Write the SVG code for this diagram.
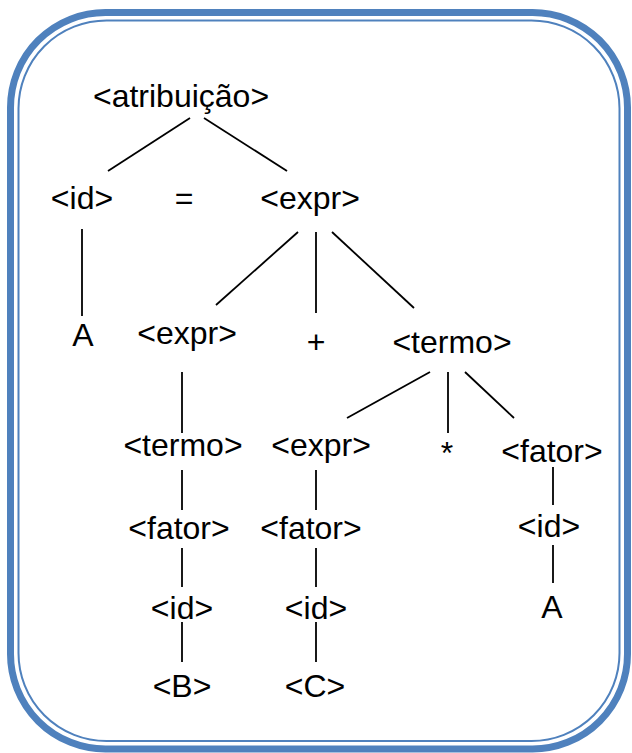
<svg xmlns="http://www.w3.org/2000/svg" width="632" height="753" viewBox="0 0 632 753">
  <style>
    .frame { fill: none; stroke: #4F81BD; }
    .lbl { font-family: "Liberation Sans", Arial, sans-serif; font-size: 32px; fill: #000; text-anchor: middle; }
    .edge { stroke: #000; stroke-width: 1.8; fill: none; }
  </style>

  <!-- double rounded frame -->
  <rect class="frame" x="10.5" y="12.5" width="617" height="736.5" rx="95" ry="95" stroke-width="7"/>
  <rect class="frame" x="18.5" y="20.5" width="601" height="720.5" rx="88" ry="88" stroke-width="2"/>

  <!-- tree edges -->
  <g id="edges">
    <line class="edge" x1="190" y1="118" x2="108" y2="171"/>
    <line class="edge" x1="204" y1="118" x2="287" y2="171"/>
    <line class="edge" x1="82" y1="229" x2="82" y2="316"/>
    <line class="edge" x1="298" y1="232" x2="216" y2="305"/>
    <line class="edge" x1="316" y1="232" x2="316" y2="313"/>
    <line class="edge" x1="332" y1="232" x2="414" y2="308"/>
    <line class="edge" x1="182" y1="372" x2="182" y2="433"/>
    <line class="edge" x1="430" y1="372" x2="347" y2="418"/>
    <line class="edge" x1="448" y1="372" x2="448" y2="433"/>
    <line class="edge" x1="465" y1="372" x2="514" y2="418"/>
    <line class="edge" x1="182" y1="470" x2="182" y2="510"/>
    <line class="edge" x1="316" y1="470" x2="316" y2="510"/>
    <line class="edge" x1="553" y1="467" x2="553" y2="505"/>
    <line class="edge" x1="182" y1="548" x2="182" y2="587"/>
    <line class="edge" x1="316" y1="548" x2="316" y2="587"/>
    <line class="edge" x1="553" y1="545" x2="553" y2="583"/>
    <line class="edge" x1="182" y1="622" x2="182" y2="662"/>
    <line class="edge" x1="316" y1="622" x2="316" y2="662"/>
  </g>

  <!-- nodes -->
  <g id="n-atribuicao"><text class="lbl" x="181" y="107">&lt;atribuição&gt;</text></g>
  <g id="n-id1"><text class="lbl" x="82" y="209">&lt;id&gt;</text></g>
  <g id="n-eq"><text class="lbl" x="184" y="209">=</text></g>
  <g id="n-expr1"><text class="lbl" x="310" y="209">&lt;expr&gt;</text></g>
  <g id="n-A1"><text class="lbl" x="83" y="346">A</text></g>
  <g id="n-expr2"><text class="lbl" x="187" y="344">&lt;expr&gt;</text></g>
  <g id="n-plus"><text class="lbl" x="316" y="353">+</text></g>
  <g id="n-termo1"><text class="lbl" x="452" y="353">&lt;termo&gt;</text></g>
  <g id="n-termo2"><text class="lbl" x="183" y="456">&lt;termo&gt;</text></g>
  <g id="n-expr3"><text class="lbl" x="321" y="456">&lt;expr&gt;</text></g>
  <g id="n-star"><text class="lbl" x="447" y="464">*</text></g>
  <g id="n-fator1"><text class="lbl" x="552" y="462">&lt;fator&gt;</text></g>
  <g id="n-fator2"><text class="lbl" x="179" y="539">&lt;fator&gt;</text></g>
  <g id="n-fator3"><text class="lbl" x="311" y="539">&lt;fator&gt;</text></g>
  <g id="n-id2"><text class="lbl" x="549" y="537">&lt;id&gt;</text></g>
  <g id="n-id3"><text class="lbl" x="182" y="619">&lt;id&gt;</text></g>
  <g id="n-id4"><text class="lbl" x="316" y="619">&lt;id&gt;</text></g>
  <g id="n-A2"><text class="lbl" x="552" y="618">A</text></g>
  <g id="n-B"><text class="lbl" x="182" y="697">&lt;B&gt;</text></g>
  <g id="n-C"><text class="lbl" x="315" y="697">&lt;C&gt;</text></g>
</svg>
